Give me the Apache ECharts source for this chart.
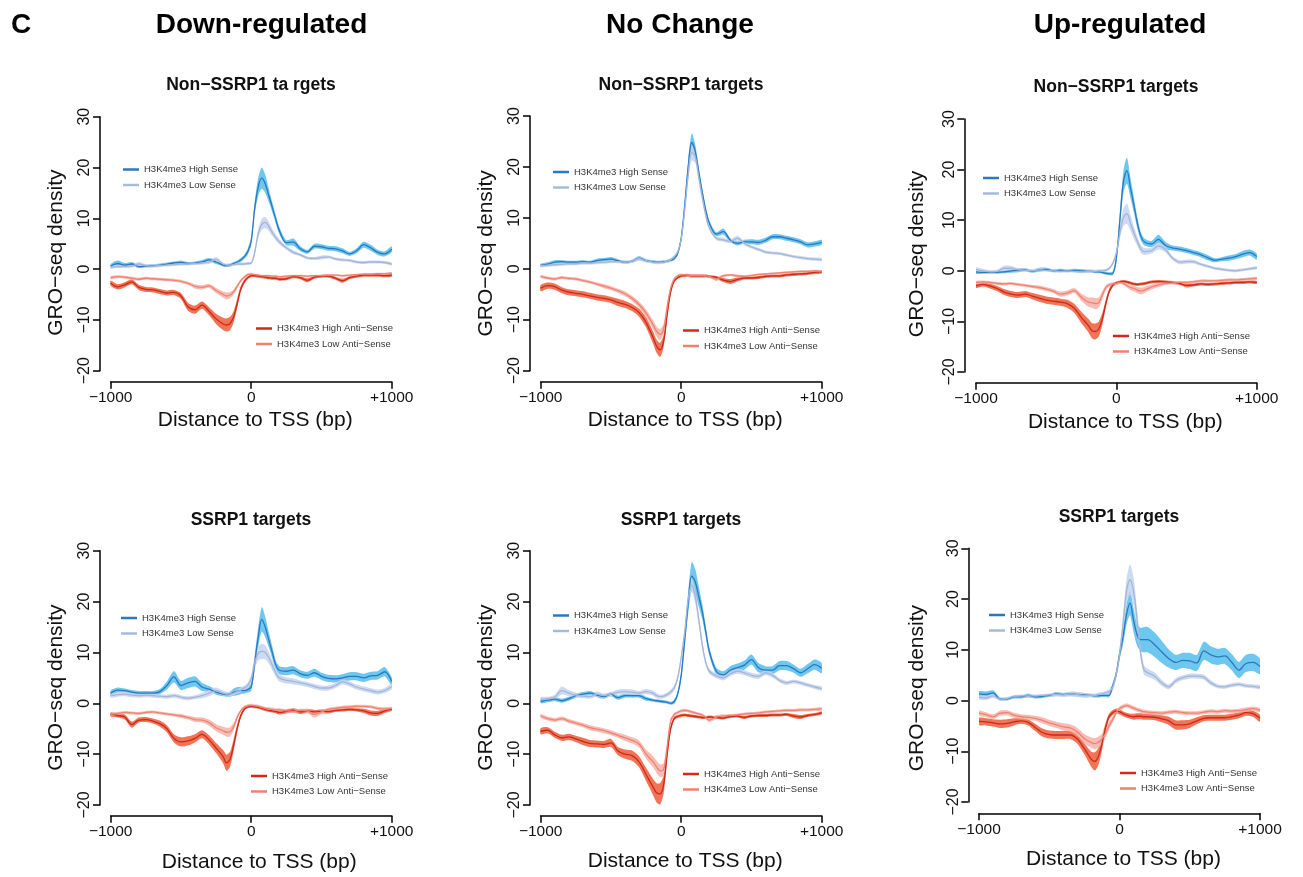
<!DOCTYPE html>
<html><head><meta charset="utf-8">
<script src="https://cdn.jsdelivr.net/npm/echarts@6/dist/echarts.min.js"></script>
<style>html,body{margin:0;padding:0;background:#fff}#c{width:1303px;height:877px}</style>
</head><body><div id="c"></div>
<script>
// x positions (bp from TSS)
const X = [-1000,-950,-900,-850,-800,-750,-700,-650,-600,-550,-500,-450,-400,-350,-300,-250,-200,
  -175,-150,-125,-100,-75,-50,-25,0,25,50,75,100,125,150,175,200,
  250,300,350,400,450,500,550,600,650,700,750,800,850,900,950,1000];
const xTicks = [-1000, 0, 1000];
const xTickLabels = ['\u22121000', '0', '+1000'];
const yTicks = [-20, -10, 0, 10, 20, 30];
const columnHeaders = ['Down-regulated', 'No Change', 'Up-regulated'];
const panelTitles = ['Non\u2212SSRP1 ta rgets', 'Non\u2212SSRP1 targets', 'Non\u2212SSRP1 targets', 'SSRP1 targets', 'SSRP1 targets', 'SSRP1 targets'];
const seriesNames = ['H3K4me3 High Sense', 'H3K4me3 Low Sense', 'H3K4me3 High Anti\u2212Sense', 'H3K4me3 Low Anti\u2212Sense'];

// Panel 1: Down-regulated, Non-SSRP1 targets
const p1HS = [0.6,1.1,0.8,1.0,0.5,0.6,0.65,0.8,1.0,1.2,1.3,1.1,1.2,1.4,1.8,1.4,0.8, 0.7,0.8,1.1,1.4,1.8,2.4,3.4,5.5,12,16.2,17.9,16.8,14.5,12.2,9.8,7.6, 5.2,5.3,4.0,3.4,4.5,4.4,4.1,4.0,3.6,3.0,3.6,4.8,4.2,3.3,3.0,3.9];
const p1HSe = [0.4,0.6,0.4,0.4,0.3,0.3,0.3,0.3,0.3,0.3,0.4,0.3,0.3,0.4,0.4,0.4,0.3, 0.3,0.3,0.3,0.3,0.4,0.4,0.6,0.8,1.2,1.8,2.1,1.8,1.3,1.0,0.8,0.7, 0.5,0.7,0.5,0.4,0.5,0.5,0.5,0.5,0.5,0.4,0.5,0.6,0.6,0.5,0.5,0.6];
const p1LS = [0.4,0.5,0.5,0.6,1.0,0.7,0.6,0.7,0.8,0.9,1.0,1.0,1.1,1.2,1.4,1.9,1.0, 0.8,0.8,0.9,1.0,1.0,1.0,1.1,1.2,3.3,7.0,8.8,9.2,8.4,7.2,6.2,5.4, 4.2,3.3,2.8,2.2,2.1,2.3,2.4,2.0,1.8,1.7,1.4,1.3,1.4,1.4,1.3,1.0];
const p1LSe = [0.3,0.3,0.3,0.3,0.4,0.3,0.3,0.3,0.3,0.3,0.3,0.3,0.3,0.3,0.4,0.5,0.3, 0.3,0.3,0.3,0.3,0.3,0.3,0.3,0.3,0.6,0.9,1.1,1.1,0.9,0.7,0.6,0.5, 0.4,0.4,0.3,0.3,0.3,0.4,0.3,0.3,0.3,0.3,0.3,0.3,0.3,0.3,0.3,0.3];
const p1HA = [-2.8,-3.5,-3.1,-2.5,-3.6,-4.0,-4.1,-4.4,-4.7,-4.6,-5.3,-7.4,-8.0,-7.1,-8.3,-9.8,-10.8, -11.0,-10.7,-9.4,-6.8,-4.0,-2.5,-1.7,-1.3,-1.3,-1.4,-1.5,-1.6,-1.7,-1.8,-1.8,-2.0, -1.9,-1.5,-1.7,-2.2,-1.6,-1.4,-1.4,-1.8,-2.3,-1.7,-1.4,-1.2,-1.2,-1.2,-1.3,-1.2];
const p1HAe = [0.5,0.5,0.5,0.5,0.5,0.5,0.5,0.5,0.5,0.5,0.6,0.8,0.8,0.7,0.8,1.0,1.2, 1.3,1.3,1.1,0.9,0.6,0.4,0.3,0.3,0.3,0.3,0.3,0.3,0.3,0.3,0.3,0.3, 0.3,0.3,0.3,0.4,0.3,0.3,0.3,0.3,0.4,0.3,0.3,0.3,0.3,0.3,0.3,0.3];
const p1LA = [-1.7,-1.5,-1.6,-1.8,-2.0,-1.8,-1.9,-2.0,-2.1,-2.2,-2.4,-2.8,-3.4,-3.6,-3.3,-4.2,-5.0, -5.3,-5.1,-4.5,-3.4,-2.3,-1.6,-1.1,-1.0,-1.1,-1.2,-1.3,-1.3,-1.3,-1.4,-1.4,-1.5, -1.4,-1.3,-1.3,-1.4,-1.3,-1.3,-1.2,-1.2,-1.3,-1.2,-1.1,-1.0,-1.0,-0.9,-0.9,-0.8];
const p1LAe = [0.3,0.3,0.3,0.3,0.3,0.3,0.3,0.3,0.3,0.3,0.3,0.3,0.4,0.4,0.4,0.5,0.6, 0.7,0.6,0.5,0.4,0.3,0.3,0.3,0.3,0.2,0.2,0.2,0.2,0.2,0.2,0.2,0.2, 0.2,0.2,0.2,0.2,0.2,0.2,0.2,0.2,0.2,0.2,0.2,0.2,0.2,0.2,0.2,0.2];

// Panel 2: No Change, Non-SSRP1 targets
const p2HS = [0.7,0.9,1.3,1.4,1.3,1.3,1.4,1.3,1.6,1.8,1.9,1.6,1.3,1.5,2.1,1.6,1.4, 1.3,1.3,1.4,1.5,1.7,2.0,3.0,6.0,12.5,20.0,24.8,23.0,19.0,15.0,11.5,9.0, 6.8,7.3,5.6,5.0,5.3,5.3,5.2,5.6,6.3,6.3,6.0,5.7,5.3,4.7,4.9,5.2];
const p2HSe = [0.3,0.4,0.4,0.3,0.3,0.3,0.3,0.3,0.4,0.3,0.4,0.3,0.3,0.3,0.4,0.3,0.3, 0.3,0.3,0.3,0.3,0.3,0.3,0.4,0.6,1.0,1.5,1.8,1.4,1.0,0.8,0.6,0.5, 0.4,0.6,0.4,0.4,0.4,0.5,0.5,0.5,0.5,0.5,0.5,0.5,0.5,0.5,0.5,0.5];
const p2LS = [0.6,0.7,0.8,0.9,1.0,1.0,1.1,1.1,1.2,1.3,1.4,1.4,1.3,1.5,2.0,1.6,1.3, 1.2,1.2,1.3,1.5,1.8,2.4,3.3,5.8,11.5,18.5,22.8,22.0,18.0,14.0,10.5,8.0, 6.0,5.7,5.4,6.0,5.0,4.3,3.8,3.3,3.1,3.0,2.7,2.4,2.2,2.0,1.9,1.8];
const p2LSe = [0.3,0.3,0.3,0.3,0.3,0.3,0.3,0.3,0.3,0.3,0.3,0.3,0.3,0.3,0.4,0.3,0.3, 0.3,0.3,0.3,0.3,0.3,0.3,0.3,0.5,0.8,1.2,1.5,1.2,0.9,0.7,0.5,0.4, 0.4,0.4,0.4,0.5,0.4,0.3,0.3,0.3,0.3,0.3,0.3,0.3,0.3,0.3,0.3,0.3];
const p2HA = [-3.8,-3.3,-3.5,-4.2,-4.6,-4.8,-5.0,-5.3,-5.6,-5.8,-6.1,-6.6,-7.0,-7.6,-8.6,-10.5,-13.5, -15.2,-15.9,-14.2,-9.0,-4.5,-2.4,-1.7,-1.4,-1.3,-1.3,-1.4,-1.4,-1.4,-1.4,-1.4,-1.5, -1.7,-2.2,-2.5,-2.1,-1.8,-1.8,-1.7,-1.5,-1.4,-1.4,-1.2,-1.1,-1.0,-0.9,-0.7,-0.6];
const p2HAe = [0.6,0.6,0.6,0.6,0.6,0.6,0.6,0.6,0.6,0.6,0.6,0.7,0.7,0.7,0.8,1.0,1.2, 1.3,1.4,1.2,0.8,0.5,0.3,0.3,0.3,0.3,0.3,0.3,0.3,0.3,0.3,0.3,0.3, 0.3,0.4,0.5,0.4,0.3,0.3,0.3,0.3,0.3,0.3,0.3,0.3,0.3,0.3,0.3,0.3];
const p2LA = [-1.5,-1.8,-2.0,-1.7,-1.9,-2.0,-2.3,-2.6,-3.0,-3.4,-3.8,-4.3,-4.9,-5.8,-7.0,-8.7,-11.0, -12.3,-12.9,-11.8,-7.5,-3.8,-2.0,-1.4,-1.2,-1.2,-1.3,-1.3,-1.3,-1.3,-1.3,-1.4,-1.5, -2.0,-1.4,-1.2,-1.4,-1.5,-1.3,-1.1,-1.0,-0.9,-0.8,-0.7,-0.6,-0.5,-0.5,-0.4,-0.5];
const p2LAe = [0.3,0.3,0.3,0.3,0.3,0.3,0.3,0.3,0.3,0.4,0.4,0.4,0.5,0.5,0.6,0.7,0.9, 1.0,1.1,1.0,0.7,0.4,0.3,0.3,0.3,0.2,0.2,0.2,0.2,0.2,0.2,0.2,0.2, 0.4,0.3,0.2,0.3,0.3,0.2,0.2,0.2,0.2,0.2,0.2,0.2,0.2,0.2,0.2,0.2];

// Panel 3: Up-regulated, Non-SSRP1 targets
const p3HS = [-0.2,-0.3,-0.3,-0.3,-0.2,0.0,0.1,0.2,-0.1,0.2,0.3,0.0,0.1,0.0,0.1,0.0,-0.1, -0.1,-0.2,-0.2,-0.3,-0.5,-0.6,-0.5,2.5,10.0,17.5,19.8,16.5,13.0,9.4,6.8,5.7, 5.3,6.2,5.0,4.5,4.3,4.0,3.6,3.2,2.6,2.1,2.3,2.5,2.8,3.3,3.6,2.8];
const p3HSe = [0.4,0.3,0.3,0.3,0.3,0.4,0.4,0.3,0.3,0.4,0.3,0.3,0.3,0.3,0.3,0.3,0.3, 0.3,0.3,0.3,0.3,0.3,0.3,0.4,0.8,1.5,2.2,2.6,2.0,1.5,1.1,0.8,0.7, 0.6,0.9,0.7,0.5,0.5,0.5,0.5,0.5,0.5,0.4,0.4,0.5,0.5,0.6,0.6,0.6];
const p3LS = [0.3,0.0,-0.2,-0.1,0.5,0.5,0.2,0.1,0.0,0.2,0.1,0.0,-0.1,0.0,-0.1,-0.2,-0.1, -0.1,-0.1,0.0,0.0,0.1,0.5,1.5,3.5,7.5,10.5,11.3,9.5,7.5,5.8,4.3,3.8, 4.0,4.9,4.2,2.5,1.7,1.8,1.8,1.3,0.9,0.5,0.3,0.1,0.0,0.2,0.4,0.6];
const p3LSe = [0.4,0.4,0.3,0.3,0.5,0.5,0.3,0.3,0.3,0.3,0.3,0.3,0.3,0.3,0.3,0.3,0.3, 0.3,0.3,0.3,0.3,0.3,0.3,0.4,0.6,1.2,1.7,2.0,1.6,1.2,0.9,0.8,0.7, 0.6,0.7,0.6,0.4,0.4,0.4,0.4,0.3,0.3,0.3,0.3,0.3,0.3,0.3,0.3,0.3];
const p3HA = [-3.0,-2.7,-3.0,-3.5,-4.2,-4.6,-4.8,-4.6,-5.0,-5.4,-5.8,-6.0,-6.2,-6.5,-7.4,-9.2,-10.8, -11.8,-12.0,-11.5,-9.5,-6.5,-4.0,-2.8,-2.4,-2.2,-2.1,-2.2,-2.4,-2.6,-2.7,-2.6,-2.5, -2.2,-2.1,-2.2,-2.3,-2.5,-2.9,-2.8,-2.6,-2.7,-2.6,-2.5,-2.4,-2.3,-2.3,-2.2,-2.3];
const p3HAe = [0.4,0.4,0.5,0.5,0.6,0.6,0.6,0.6,0.6,0.7,0.7,0.7,0.7,0.8,0.9,1.1,1.3, 1.5,1.6,1.5,1.2,0.8,0.5,0.4,0.3,0.3,0.3,0.3,0.3,0.3,0.3,0.3,0.3, 0.3,0.3,0.3,0.3,0.3,0.4,0.3,0.3,0.3,0.3,0.3,0.3,0.3,0.3,0.3,0.3];
const p3LA = [-2.3,-2.2,-2.3,-2.5,-2.6,-2.5,-2.7,-2.9,-3.1,-3.3,-3.6,-4.0,-4.6,-4.4,-3.9,-5.2,-6.2, -6.3,-6.5,-6.3,-4.8,-3.3,-2.8,-2.6,-2.5,-2.3,-2.5,-2.9,-3.3,-3.5,-3.8,-4.0,-3.8, -3.2,-2.8,-2.5,-2.4,-2.3,-2.3,-2.2,-2.0,-2.0,-2.0,-1.9,-1.8,-1.8,-1.7,-1.6,-1.5];
const p3LAe = [0.3,0.3,0.3,0.3,0.3,0.3,0.3,0.3,0.3,0.4,0.4,0.4,0.5,0.5,0.5,0.7,0.9, 1.0,1.1,1.0,0.8,0.5,0.4,0.3,0.3,0.3,0.3,0.4,0.5,0.6,0.6,0.7,0.6, 0.5,0.4,0.3,0.3,0.3,0.3,0.3,0.3,0.3,0.3,0.3,0.3,0.3,0.3,0.3,0.3];

// Panel 4: Down-regulated, SSRP1 targets
const p4HS = [2.0,2.6,2.5,2.2,2.0,2.0,2.0,2.3,3.5,5.2,3.5,4.0,4.3,3.2,2.8,2.2,1.8, 1.7,1.8,2.2,2.4,2.5,2.5,2.7,3.2,8.0,13.0,16.5,15.0,12.5,10.0,7.5,6.5, 6.3,6.5,5.8,5.5,6.0,5.3,4.9,4.8,5.0,5.3,5.3,5.0,5.4,5.5,6.2,4.3];
const p4HSe = [0.5,0.5,0.4,0.4,0.4,0.4,0.4,0.5,0.8,1.1,0.9,1.0,1.0,0.8,0.6,0.5,0.4, 0.4,0.5,0.7,0.8,0.7,0.6,0.6,0.8,1.4,2.0,2.4,2.0,1.5,1.2,0.9,0.8, 0.8,0.8,0.7,0.7,0.8,0.7,0.7,0.7,0.7,0.8,0.8,0.8,0.8,0.8,0.9,0.8];
const p4LS = [1.5,1.7,1.8,1.6,1.5,1.6,1.5,1.4,1.3,1.5,1.2,1.0,1.2,1.5,2.0,2.5,2.0, 1.8,1.8,2.0,2.3,2.6,3.0,3.5,4.8,8.0,9.8,10.2,10.0,9.0,7.5,6.0,5.0, 4.5,4.3,4.0,3.7,3.3,3.0,3.0,3.5,4.2,3.8,3.2,2.8,2.5,2.2,2.5,3.3];
const p4LSe = [0.4,0.4,0.4,0.4,0.4,0.4,0.4,0.4,0.4,0.4,0.4,0.4,0.4,0.5,0.6,0.6,0.5, 0.4,0.4,0.4,0.4,0.5,0.5,0.6,0.8,1.2,1.4,1.5,1.4,1.2,1.0,0.8,0.7, 0.6,0.6,0.5,0.5,0.5,0.5,0.5,0.5,0.5,0.5,0.5,0.5,0.5,0.5,0.5,0.6];
const p4HA = [-2.2,-2.4,-2.7,-4.2,-3.3,-3.2,-3.5,-4.0,-5.0,-6.9,-7.6,-7.4,-6.9,-6.1,-7.2,-8.8,-10.5, -11.7,-11.0,-8.2,-5.0,-2.5,-1.2,-0.7,-0.6,-0.7,-0.8,-1.0,-1.2,-1.4,-1.5,-1.6,-1.8, -1.6,-1.4,-1.7,-1.5,-1.7,-1.6,-1.6,-1.4,-1.3,-1.2,-1.3,-1.5,-1.9,-2.0,-1.5,-1.2];
const p4HAe = [0.4,0.4,0.5,0.6,0.5,0.5,0.5,0.6,0.7,0.8,0.9,0.9,0.8,0.8,0.9,1.0,1.3, 1.6,1.5,1.2,0.8,0.5,0.3,0.3,0.3,0.3,0.3,0.3,0.3,0.3,0.3,0.4,0.4, 0.4,0.4,0.4,0.4,0.4,0.4,0.4,0.3,0.3,0.3,0.3,0.4,0.5,0.5,0.4,0.3];
const p4LA = [-2.2,-2.0,-1.8,-1.9,-2.0,-1.8,-1.7,-1.9,-2.1,-2.3,-2.5,-2.8,-3.2,-3.3,-3.8,-4.8,-5.4, -5.7,-5.6,-4.6,-2.8,-1.5,-0.8,-0.5,-0.4,-0.5,-0.6,-0.8,-1.0,-1.1,-1.2,-1.3,-1.3, -1.5,-1.6,-1.4,-1.5,-2.2,-1.7,-1.2,-1.0,-0.8,-0.7,-0.6,-0.6,-0.7,-1.0,-1.1,-1.0];
const p4LAe = [0.3,0.3,0.3,0.3,0.3,0.3,0.3,0.3,0.3,0.3,0.4,0.4,0.5,0.5,0.6,0.7,0.8, 0.9,0.9,0.7,0.5,0.3,0.3,0.3,0.3,0.3,0.3,0.3,0.3,0.3,0.3,0.3,0.3, 0.3,0.3,0.3,0.4,0.6,0.4,0.3,0.3,0.3,0.3,0.3,0.3,0.3,0.3,0.3,0.3];

// Panel 5: No Change, SSRP1 targets
const p5HS = [0.4,0.6,0.8,0.5,0.9,1.5,1.8,2.0,1.6,1.3,1.8,1.1,1.5,1.5,1.5,0.9,0.6, 0.5,0.4,0.3,0.2,0.0,0.3,1.8,5.5,12.5,19.8,25.0,23.9,21.0,18.0,14.1,10.2, 6.3,5.6,6.5,7.0,7.5,8.6,7.0,6.5,6.5,7.4,7.4,6.8,6.0,6.8,7.6,6.9];
const p5HSe = [0.4,0.4,0.4,0.4,0.4,0.4,0.4,0.4,0.4,0.4,0.4,0.4,0.4,0.4,0.4,0.4,0.3, 0.3,0.3,0.3,0.3,0.3,0.4,0.5,0.8,1.5,2.2,2.8,2.5,2.0,1.5,1.1,0.8, 0.7,0.7,0.8,0.8,0.9,1.0,0.9,0.8,0.8,0.9,0.9,0.8,0.8,0.9,1.0,1.0];
const p5LS = [0.8,0.9,1.2,2.5,2.0,1.6,1.4,1.3,1.8,1.5,1.8,2.2,2.3,2.2,2.0,2.3,2.0, 1.5,1.3,1.4,1.7,2.2,3.0,5.0,9.0,14.0,20.5,23.3,21.0,16.5,11.5,8.0,6.3, 5.4,5.0,5.8,6.3,6.0,5.5,5.3,6.0,5.5,4.5,4.0,4.3,4.0,3.6,3.2,2.9];
const p5LSe = [0.4,0.4,0.5,0.8,0.6,0.5,0.4,0.4,0.5,0.4,0.4,0.5,0.5,0.5,0.4,0.5,0.5, 0.5,0.4,0.4,0.4,0.5,0.5,0.6,0.8,1.0,1.2,1.4,1.3,1.0,0.8,0.6,0.5, 0.5,0.5,0.5,0.5,0.5,0.5,0.5,0.5,0.5,0.4,0.4,0.4,0.4,0.4,0.4,0.4];
const p5HA = [-5.5,-5.3,-6.2,-6.8,-6.6,-7.0,-7.5,-7.9,-8.0,-8.1,-7.8,-9.4,-10.0,-10.3,-11.5,-14.0,-16.5, -17.6,-17.8,-16.0,-10.0,-5.0,-3.0,-2.6,-2.4,-2.3,-2.4,-2.5,-2.6,-2.7,-2.8,-2.8,-2.7, -2.8,-2.9,-2.6,-2.5,-2.8,-2.5,-2.4,-2.4,-2.3,-2.3,-2.2,-2.5,-2.7,-2.4,-2.2,-1.9];
const p5HAe = [0.6,0.6,0.6,0.6,0.6,0.6,0.7,0.7,0.7,0.7,0.8,0.8,0.9,1.0,1.1,1.3,1.6, 1.9,2.1,1.8,1.2,0.6,0.4,0.3,0.3,0.3,0.3,0.3,0.3,0.3,0.3,0.3,0.3, 0.3,0.3,0.3,0.3,0.3,0.3,0.3,0.3,0.3,0.3,0.3,0.4,0.4,0.3,0.3,0.3];
const p5LA = [-2.5,-3.0,-3.3,-3.0,-3.5,-3.9,-4.3,-4.8,-5.1,-5.4,-5.8,-6.3,-6.8,-7.3,-8.0,-10.0,-11.5, -12.5,-13.3,-13.0,-8.5,-3.5,-2.2,-1.8,-1.5,-1.4,-1.5,-1.7,-1.9,-2.1,-2.3,-2.8,-3.3, -2.7,-2.5,-2.4,-2.3,-2.1,-2.0,-1.9,-1.7,-1.6,-1.5,-1.4,-1.4,-1.3,-1.3,-1.2,-1.1];
const p5LAe = [0.4,0.4,0.4,0.4,0.4,0.4,0.4,0.5,0.5,0.5,0.5,0.5,0.6,0.6,0.7,0.9,1.1, 1.2,1.3,1.2,0.8,0.4,0.3,0.3,0.3,0.3,0.3,0.3,0.3,0.3,0.3,0.4,0.4, 0.4,0.3,0.3,0.3,0.3,0.3,0.3,0.3,0.3,0.3,0.3,0.3,0.3,0.3,0.3,0.3];

// Panel 6: Up-regulated, SSRP1 targets
const p6HS = [1.3,1.2,1.5,0.3,0.3,0.7,0.7,1.0,0.7,0.8,1.0,1.3,1.2,1.3,1.2,1.1,1.0, 0.9,0.9,1.0,1.0,1.0,2.8,5.0,9.0,12.5,17.0,19.2,15.8,13.0,12.0,12.0,12.0, 11.0,9.6,8.3,7.5,7.9,7.8,7.4,9.8,9.0,8.6,8.8,7.5,6.0,7.3,7.5,6.7];
const p6HSe = [0.5,0.6,0.5,0.3,0.3,0.3,0.3,0.4,0.3,0.3,0.3,0.4,0.3,0.4,0.4,0.4,0.3, 0.3,0.3,0.3,0.3,0.4,0.5,0.7,1.0,1.5,2.0,2.4,2.4,2.2,2.3,2.5,2.5, 2.4,2.2,1.8,1.5,1.5,1.6,1.6,1.8,1.7,1.6,1.6,1.6,1.6,1.7,1.7,1.5];
const p6LS = [0.6,0.5,0.9,0.3,0.4,0.8,0.9,0.9,0.9,1.0,1.1,1.2,1.1,1.3,1.2,1.0,1.0, 1.0,1.2,1.3,1.5,1.7,2.5,5.0,9.0,15.0,21.5,23.8,21.5,16.0,9.5,6.0,5.5, 4.8,3.5,2.7,3.9,4.5,4.8,4.8,4.6,3.5,2.8,2.7,3.0,3.2,2.9,2.8,2.6];
const p6LSe = [0.4,0.4,0.4,0.3,0.3,0.3,0.3,0.3,0.3,0.3,0.3,0.4,0.4,0.5,0.5,0.5,0.4, 0.4,0.4,0.4,0.4,0.5,0.7,1.0,1.3,1.8,2.5,3.0,2.7,2.0,1.3,0.9,0.8, 0.7,0.6,0.5,0.5,0.5,0.5,0.5,0.5,0.5,0.4,0.4,0.4,0.4,0.4,0.4,0.4];
const p6HA = [-4.1,-4.2,-4.4,-4.6,-4.5,-4.2,-4.0,-4.3,-5.3,-6.3,-6.7,-6.8,-6.8,-6.8,-7.6,-9.5,-11.6, -12.0,-11.0,-8.5,-5.5,-3.2,-2.4,-2.1,-2.2,-2.6,-2.9,-3.1,-3.2,-3.1,-3.1,-3.2,-3.2, -3.3,-3.6,-4.0,-4.8,-4.8,-4.6,-4.0,-3.5,-3.4,-3.4,-3.4,-3.2,-2.9,-2.4,-2.6,-3.5];
const p6HAe = [0.7,0.7,0.7,0.8,0.8,0.7,0.6,0.6,0.7,0.8,0.8,0.8,0.8,0.8,0.9,1.1,1.5, 1.8,1.7,1.4,1.0,0.6,0.5,0.5,0.5,0.5,0.5,0.5,0.6,0.6,0.6,0.6,0.6, 0.6,0.7,0.8,0.9,0.9,0.8,0.7,0.6,0.6,0.6,0.6,0.6,0.6,0.6,0.6,0.7];
const p6LA = [-2.5,-2.8,-3.2,-2.5,-2.4,-2.9,-3.2,-3.3,-3.5,-3.9,-4.4,-4.8,-5.2,-5.4,-6.2,-7.5,-8.3, -8.5,-8.2,-7.6,-6.5,-5.0,-3.8,-2.5,-1.6,-1.2,-1.0,-1.2,-1.5,-1.8,-2.0,-2.2,-2.3, -2.4,-2.5,-2.3,-2.2,-2.4,-2.5,-2.5,-2.3,-2.1,-2.2,-2.0,-2.1,-2.0,-1.8,-1.6,-1.9];
const p6LAe = [0.5,0.5,0.5,0.5,0.5,0.5,0.5,0.5,0.5,0.6,0.6,0.6,0.7,0.7,0.8,0.9,1.0, 1.1,1.1,1.0,0.9,0.8,0.6,0.5,0.4,0.4,0.4,0.4,0.4,0.4,0.4,0.4,0.4, 0.4,0.4,0.4,0.4,0.4,0.4,0.4,0.4,0.4,0.4,0.4,0.4,0.4,0.4,0.4,0.4];

const panelData = [
  [[p1HS,p1HSe],[p1LS,p1LSe],[p1HA,p1HAe],[p1LA,p1LAe]],
  [[p2HS,p2HSe],[p2LS,p2LSe],[p2HA,p2HAe],[p2LA,p2LAe]],
  [[p3HS,p3HSe],[p3LS,p3LSe],[p3HA,p3HAe],[p3LA,p3LAe]],
  [[p4HS,p4HSe],[p4LS,p4LSe],[p4HA,p4HAe],[p4LA,p4LAe]],
  [[p5HS,p5HSe],[p5LS,p5LSe],[p5HA,p5HAe],[p5LA,p5LAe]],
  [[p6HS,p6HSe],[p6LS,p6LSe],[p6HA,p6HAe],[p6LA,p6LAe]]
];

// ---- layout & style ----
const FONT = 'Liberation Sans, Arial, Helvetica, sans-serif';
const layout = [
  {left:110.7, top:116.7, width:281, height:254, yOff:10.7, xOff:11, yNameGap:33, xNameGap:28, xShift:4, yShift:9, title:[251,85], blue:[123,164.5], red:[256,323.5]},
  {left:540.7, top:116, width:281, height:254.7, yOff:10.7, xOff:11, yNameGap:33, xNameGap:28, xShift:4, yShift:10, title:[681,85], blue:[553,167], red:[683,325.5]},
  {left:976, top:119, width:280.7, height:253, yOff:11.7, xOff:10.7, yNameGap:37, xNameGap:29, xShift:9, yShift:8.5, title:[1116,87], blue:[983,173], red:[1113,331]},
  {left:110.7, top:550.7, width:281, height:254.3, yOff:10.7, xOff:10.7, yNameGap:33, xNameGap:36, xShift:8, yShift:9.7, title:[251,520], blue:[121,613], red:[251,771]},
  {left:540.7, top:550.7, width:281, height:254.3, yOff:10.7, xOff:10.7, yNameGap:33, xNameGap:35, xShift:4, yShift:9.7, title:[681,520], blue:[553,610.5], red:[683,769]},
  {left:979, top:548.3, width:281, height:253.7, yOff:10.7, xOff:11.3, yNameGap:41, xNameGap:35, xShift:4, yShift:13, title:[1119,517], blue:[989,610], red:[1120,768]}
];
const headerPos = [[261.5,25],[680,25],[1120,25]];
const lineColors = ['#2a78c0', '#a3b6da', '#c92a1c', '#ef8270'];
const bandColors = ['#55bdeb', '#c6d4ee', '#ef5c38', '#f6b1a8'];
const swatchColors = ['#2a78c4', '#a6bbdc', '#d7261e', '#f08070'];
const SMOOTH = 0.35;

const fmt = v => (v < 0 ? '\u2212' + (-v) : String(v));

// confidence band drawn as one polygon through the axis scales
function bandSeries(g, k) {
  const [mean, err] = panelData[g][k];
  const lo = mean.map((m, i) => m - err[i]);
  const hi = mean.map((m, i) => m + err[i]);
  return {
    type:'custom', name:'band' + g + k, xAxisIndex:g, yAxisIndex:g, silent:true, clip:true, z:1 + k * 0.1,
    data: X.map((x, i) => [x, lo[i], hi[i]]),
    encode:{x:0, y:[1, 2]},
    renderItem: (params, api) => {
      if (params.dataIndex !== 0) return null;
      const upper = X.map((x, i) => api.coord([x, hi[i]]));
      const lower = X.map((x, i) => api.coord([x, lo[i]])).reverse();
      return {
        type:'polygon',
        shape:{points: upper.concat(lower), smooth:0.25, smoothConstraint:false},
        style:{fill: bandColors[k], opacity:0.85, stroke:'none'}
      };
    }
  };
}

const grid = [], xAxis = [], yAxis = [], series = [], legend = [], title = [];
layout.forEach((L, g) => {
  grid.push({left:L.left, top:L.top, width:L.width, height:L.height, containLabel:false});
  xAxis.push({
    type:'value', gridIndex:g, min:xTicks[0], max:xTicks[2], interval:1000, offset:L.xOff,
    axisLine:{show:true, onZero:false, lineStyle:{color:'#000', width:1.5}},
    axisTick:{show:true, length:7, lineStyle:{color:'#000', width:1.5}},
    axisLabel:{fontSize:15.5, color:'#111', margin:8, fontFamily:FONT,
      formatter: v => xTickLabels[xTicks.indexOf(v)] ?? ''},
    splitLine:{show:false},
    name:'Distance to TSS (bp)', nameLocation:'middle', nameGap:L.xNameGap,
    nameTextStyle:{fontSize:21, color:'#111', fontFamily:FONT, padding:[0,0,0,2*L.xShift]}
  });
  yAxis.push({
    type:'value', gridIndex:g, min:yTicks[0], max:yTicks[yTicks.length-1], interval:10, offset:L.yOff,
    axisLine:{show:true, onZero:false, lineStyle:{color:'#000', width:1.5}},
    axisTick:{show:true, length:7, lineStyle:{color:'#000', width:1.5}},
    axisLabel:{fontSize:16, color:'#111', margin:7, rotate:90, fontFamily:FONT, formatter: fmt},
    splitLine:{show:false},
    name:'GRO\u2212seq density', nameLocation:'middle', nameRotate:90, nameGap:L.yNameGap,
    nameTextStyle:{fontSize:21, color:'#111', fontFamily:FONT, padding:[0,2*L.yShift,0,0]}
  });
  [0, 1, 2, 3].forEach(k => series.push(bandSeries(g, k)));
  [0, 1, 2, 3].forEach(k => {
    const [mean] = panelData[g][k];
    series.push({
      type:'line', name:seriesNames[k], xAxisIndex:g, yAxisIndex:g,
      data: X.map((x, i) => [x, mean[i]]),
      symbol:'none', smooth:SMOOTH, lineStyle:{color:lineColors[k], width:1.3},
      itemStyle:{color:lineColors[k]}, silent:true, z:3
    });
  });
  const mkLegend = (pos, ks) => ({
    orient:'vertical', left:pos[0], top:pos[1], padding:0, itemGap:5.5,
    itemWidth:16, itemHeight:2.5, icon:'rect', selectedMode:false,
    textStyle:{fontSize:9.5, color:'#333', fontFamily:FONT},
    data: ks.map(k => ({name:seriesNames[k], itemStyle:{color:swatchColors[k]}}))
  });
  legend.push(mkLegend(L.blue, [0, 1]));
  legend.push(mkLegend(L.red, [2, 3]));
  title.push({text:panelTitles[g], left:L.title[0], top:L.title[1], textAlign:'center', textVerticalAlign:'middle', padding:0,
    textStyle:{fontSize:17.5, fontWeight:'bold', color:'#111', fontFamily:FONT}});
});
columnHeaders.forEach((h, i) => {
  title.push({text:h, left:headerPos[i][0], top:headerPos[i][1], textAlign:'center', textVerticalAlign:'middle', padding:0,
    textStyle:{fontSize:28, fontWeight:'bold', color:'#000', fontFamily:FONT}});
});
title.push({text:'C', left:21, top:25, textAlign:'center', textVerticalAlign:'middle', padding:0,
  textStyle:{fontSize:28, fontWeight:'bold', color:'#000', fontFamily:FONT}});

const chart = echarts.init(document.getElementById('c'), null, {renderer:'canvas'});
chart.setOption({
  animation:false, backgroundColor:'#fff',
  textStyle:{fontFamily:FONT},
  title, grid, xAxis, yAxis, legend, series
});
</script>
</body></html>
